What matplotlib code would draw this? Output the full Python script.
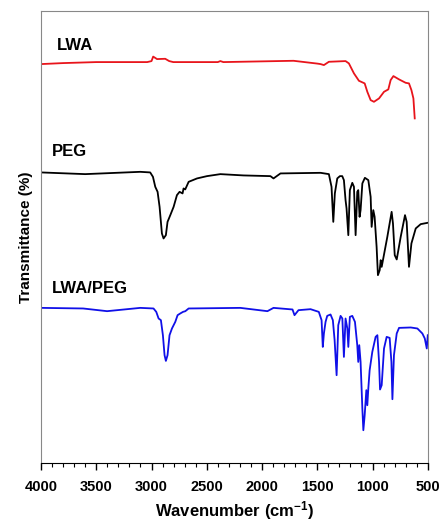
import matplotlib.pyplot as plt
from matplotlib.ticker import MultipleLocator

plt.rcParams['font.family'] = ['Liberation Sans', 'DejaVu Sans']
plt.rcParams['mathtext.fontset'] = 'custom'
plt.rcParams['mathtext.bf'] = 'Liberation Sans:bold'
plt.rcParams['mathtext.rm'] = 'Liberation Sans'

# wavenumber (cm-1) / transmittance (a.u., curves stacked with offsets)
lwa_wn = [4000, 3800, 3500, 3039, 3000, 2985, 2950, 2876, 2840, 2803, 2400, 2377, 2350,
          1715, 1500, 1470, 1440, 1395, 1244, 1214, 1168, 1123, 1071, 1047, 1017,
          987, 941, 896, 857, 836, 811, 760, 700, 670, 648, 630, 618]
lwa_t = [399, 400, 401, 401, 402, 406.5, 404, 404.3, 402, 401, 401, 402, 401,
         402.3, 399.5, 399, 398, 401.3, 402, 399.7, 389.7, 382.3, 379.7, 371.3, 363,
         361.3, 364.7, 371.3, 373.7, 383, 387, 383.7, 380.3, 379.7, 373, 364.7, 344.7]

peg_wn = [4000, 3600, 3102, 3012, 2987, 2966, 2945, 2927, 2906, 2891, 2870, 2855,
          2830, 2800, 2770, 2746, 2719, 2710, 2695, 2664, 2588, 2498, 2377, 2168,
          1924, 1896, 1833, 1470, 1395, 1371, 1355, 1341, 1319, 1295, 1274, 1259,
          1244, 1235, 1219, 1205, 1183, 1168, 1153, 1138, 1129, 1117, 1108, 1092,
          1069, 1038, 1017, 1008, 993, 981, 963, 951, 935, 926, 917, 866, 827, 815,
          799, 781, 745, 706, 691, 670, 648, 609, 564, 503]
peg_t = [290.7, 289, 291.3, 290.7, 286.3, 276.3, 271.3, 256.3, 229.7, 224.7, 228, 241.3,
         248, 256.3, 268, 271.3, 269.7, 274.7, 273.7, 281.3, 284.7, 287, 289, 287.7,
         287, 284.7, 289.7, 290.3, 289, 276.3, 241.3, 269.7, 284.7, 287, 287, 283,
         263, 254.7, 228, 273, 280.3, 276.3, 228, 271.3, 273, 246.3, 253, 279.7,
         285.3, 283, 266.3, 236.3, 253, 246.3, 216.3, 188, 193, 203, 196.3, 226.3,
         251.3, 239.7, 208, 203.7, 226.3, 248, 241.3, 196.3, 219.7, 234.7, 239, 240.3]

mix_wn = [4000, 3619, 3402, 3102, 2982, 2957, 2936, 2915, 2897, 2882, 2870, 2855,
          2837, 2815, 2785, 2764, 2740, 2715, 2694, 2664, 2196, 1951, 1896, 1724,
          1706, 1670, 1561, 1486, 1461, 1450, 1440, 1425, 1410, 1380, 1359, 1343,
          1325, 1310, 1289, 1273, 1259, 1244, 1228, 1219, 1205, 1183, 1159, 1138,
          1129, 1120, 1108, 1092, 1083, 1071, 1056, 1047, 1038, 1026, 1002, 972,
          956, 941, 932, 917, 896, 872, 845, 829, 820, 806, 781, 760, 654, 594,
          549, 527, 509, 500]
mix_t = [155.3, 154.7, 152, 155.3, 154.7, 151.3, 144.7, 143, 128, 108, 102.3, 108,
         128, 134.7, 141.3, 148, 149.7, 151.3, 152, 154.7, 155.3, 152, 155.3, 153.7,
         148, 153, 154, 151.3, 143, 116.3, 129.7, 141.3, 147.3, 148.7, 143, 123,
         88, 138, 147.3, 144.7, 106.3, 144.7, 134.7, 116.3, 146.3, 147.3, 141.3, 118,
         101.3, 118, 101.3, 54.7, 33, 48, 73, 58, 74.7, 93, 111.3, 126.3,
         128, 101.3, 73.7, 78, 114.7, 126.3, 125.3, 101.3, 64, 108, 129.7, 135.3,
         135.7, 134.7, 129.7, 124.7, 114.7, 128]

labels = ['LWA', 'PEG', 'LWA/PEG']
label_x = [3853, 3903, 3903]
label_y = [418, 312, 175]

fig = plt.figure(figsize=(4.41, 5.27), dpi=100)
ax = fig.add_axes([0.093, 0.121, 0.877, 0.858])

ax.plot(lwa_wn, lwa_t, color='#e8141b', lw=1.3)
ax.plot(peg_wn, peg_t, color='black', lw=1.3)
ax.plot(mix_wn, mix_t, color='#1010e8', lw=1.3)

for lab, xx, yy in zip(labels, label_x, label_y):
    ax.text(xx, yy, lab, fontsize=12, fontweight='bold', va='center')

ax.set_xlim(4000, 500)
ax.set_ylim(0, 452)
ax.xaxis.set_major_locator(MultipleLocator(500))
ax.xaxis.set_minor_locator(MultipleLocator(100))
ax.set_yticks([])
ax.tick_params(axis='x', which='major', length=5, width=1, labelsize=10.5, pad=7)
ax.tick_params(axis='x', which='minor', length=3, width=0.8)
for t in ax.get_xticklabels():
    t.set_fontweight('bold')
for s in ax.spines.values():
    s.set_color('#888888')
ax.spines['bottom'].set_color('black')

ax.set_xlabel('Wavenumber (cm$\\mathbf{^{-1}}$)', fontsize=12, fontweight='bold', labelpad=4)
ax.set_ylabel('Transmittance (%)', fontsize=11, fontweight='bold', labelpad=6)

fig.savefig('out.png', dpi=100)
